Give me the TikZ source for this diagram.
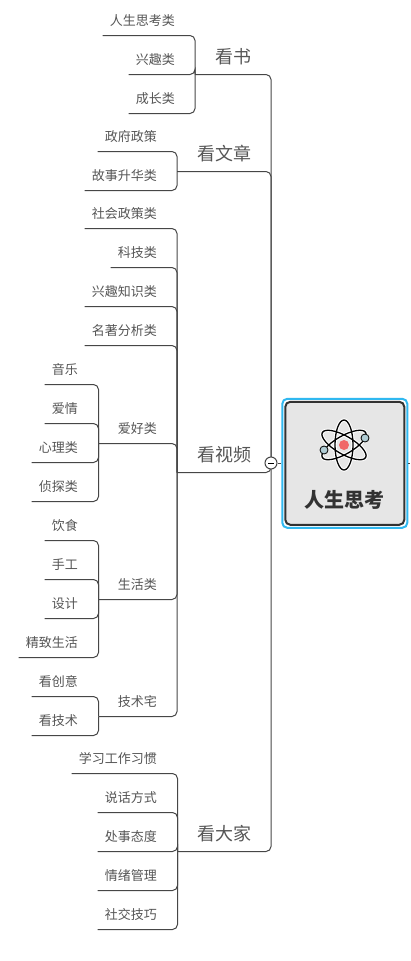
\documentclass[tikz,border=0pt]{standalone}
\usepackage{fontspec}
\usepackage{xcolor}
\usetikzlibrary{positioning,fit,backgrounds}
\newfontfamily\cjk{Noto Sans CJK SC}
\definecolor{linkc}{RGB}{70,70,70}
\definecolor{textc}{RGB}{85,85,85}
\definecolor{framec}{RGB}{48,184,240}
\definecolor{boxc}{RGB}{230,230,230}
\definecolor{edgec}{RGB}{50,50,50}
\definecolor{nucleusc}{RGB}{240,104,104}
\definecolor{electronc}{RGB}{176,204,212}
\tikzset{
  link/.style    = {draw=linkc, line width=1pt, rounded corners=5pt},
  leaf/.style    = {anchor=south east, inner xsep=7pt, inner ysep=7pt, text=textc,
                    text height=10pt, text depth=3pt, font=\cjk\fontsize{13}{13}\selectfont},
  topic/.style   = {leaf, inner xsep=0pt, inner ysep=7pt, text height=13pt, text depth=4pt,
                    font=\cjk\fontsize{18}{18}\selectfont},
  rootbox/.style = {draw=edgec, line width=2pt, fill=boxc, rounded corners=5pt,
                    minimum width=119pt, minimum height=123pt},
  rootframe/.style = {draw=framec, line width=2pt, rounded corners=5pt, inner sep=2pt},
  roottext/.style  = {text=edgec, font=\cjk\bfseries\fontsize{20}{20}\selectfont},
  toggle/.style  = {circle, draw=linkc, fill=white, line width=1pt, minimum size=12pt, inner sep=0pt},
  orbit/.style   = {line width=1.3pt, draw=black},
  halo/.style    = {line width=3.4pt, draw=white},
}
\begin{document}
\begin{tikzpicture}[x=1pt,y=-1pt]
\useasboundingbox (0,0) rectangle (410,961);

% hubs
\coordinate (trunk) at (271,463);
\coordinate (shu) at (195,74.5);
\coordinate (wenzhang) at (177,171.5);
\coordinate (shipin) at (177,472.5);
\coordinate (dajia) at (177.5,851.5);
\coordinate (aihao) at (98.5,443.5);
\coordinate (shenghuo) at (98.5,599.5);
\coordinate (jishu) at (98.5,716.5);

% topics
\node[topic] (tshu) at (252,74.5) {看书};
\node[topic] (twenzhang) at (252,171.5) {看文章};
\node[topic] (tshipin) at (252,472.5) {看视频};
\node[topic] (tdajia) at (252,851.5) {看大家};

% leaves
\node[leaf] (rensheng) at (182,35.5) {人生思考类};
\node[leaf] (xingqu) at (182,74.5) {兴趣类};
\node[leaf] (chengzhang) at (182,113.5) {成长类};

\node[leaf] (zhengfu) at (164,151.5) {政府政策};
\node[leaf] (gushi) at (164,190.5) {故事升华类};

\node[leaf] (shehui) at (164,228.5) {社会政策类};
\node[leaf] (keji) at (164,267.5) {科技类};
\node[leaf] (zhishi) at (164,306.5) {兴趣知识类};
\node[leaf] (mingzhu) at (164,345.5) {名著分析类};
\node[leaf, inner xsep=0pt] (laihao) at (157,443.5) {爱好类};
\node[leaf, inner xsep=0pt] (lshenghuo) at (157,599.5) {生活类};
\node[leaf, inner xsep=0pt] (ljishu) at (157,716.5) {技术宅};

\node[leaf] (yinyue) at (85,384.5) {音乐};
\node[leaf] (aiqing) at (85,423.5) {爱情};
\node[leaf] (xinli) at (85,462.5) {心理类};
\node[leaf] (zhentan) at (85,501.5) {侦探类};

\node[leaf] (yinshi) at (85,540.5) {饮食};
\node[leaf] (shougong) at (85,579.5) {手工};
\node[leaf] (sheji) at (85,618.5) {设计};
\node[leaf] (jingzhi) at (85,657.5) {精致生活};

\node[leaf] (chuangyi) at (85,696.5) {看创意};
\node[leaf] (kanjishu) at (85,735.5) {看技术};

\node[leaf] (xuexi) at (164,773.5) {学习工作习惯};
\node[leaf] (shuohua) at (164,812.5) {说话方式};
\node[leaf] (chushi) at (164,851.5) {处事态度};
\node[leaf] (qingxu) at (164,890.5) {情绪管理};
\node[leaf] (shejiao) at (164,929.5) {社交技巧};

% links
\foreach \hub in {shu,wenzhang,shipin,dajia}
  \draw[link] (trunk) |- (\hub);
\foreach \kid in {rensheng,xingqu,chengzhang}
  \draw[link] (shu) |- (\kid.south west);
\foreach \kid in {zhengfu,gushi}
  \draw[link] (wenzhang) |- (\kid.south west);
\foreach \kid in {shehui,keji,zhishi,mingzhu}
  \draw[link] (shipin) |- (\kid.south west);
\foreach \kid in {aihao,shenghuo,jishu}
  \draw[link] (shipin) |- (\kid);
\foreach \kid in {yinyue,aiqing,xinli,zhentan}
  \draw[link] (aihao) |- (\kid.south west);
\foreach \kid in {yinshi,shougong,sheji,jingzhi}
  \draw[link] (shenghuo) |- (\kid.south west);
\foreach \kid in {chuangyi,kanjishu}
  \draw[link] (jishu) |- (\kid.south west);
\foreach \kid in {xuexi,shuohua,chushi,qingxu,shejiao}
  \draw[link] (dajia) |- (\kid.south west);

% root
\node[rootbox] (root) at (344.8,463.3) {};
\node[rootframe, fit=(root)] (frame) {};
\node[roottext] (title) at (344,500) {人生思考};
\coordinate (stub) at (410,463);
\node[toggle] (fold) at (trunk) {\rule{6pt}{1pt}};
\draw[link] (fold) -- (frame.west |- fold);
\draw[link] (frame.east |- fold) -- (stub);

% atom
\foreach \ang in {0,60,120}{
  \draw[halo, rotate around={\ang:(344,445)}] (344,445) ellipse (9 and 25);
}
\foreach \ang in {0,60,120}{
  \draw[orbit, rotate around={\ang:(344,445)}] (344,445) ellipse (9 and 25);
}
\fill[nucleusc] (344,445) circle (5);
\filldraw[fill=electronc, draw=black, line width=.8pt] (365,438) circle (4);
\filldraw[fill=electronc, draw=black, line width=.8pt] (324,450) circle (4);

\end{tikzpicture}
\end{document}
